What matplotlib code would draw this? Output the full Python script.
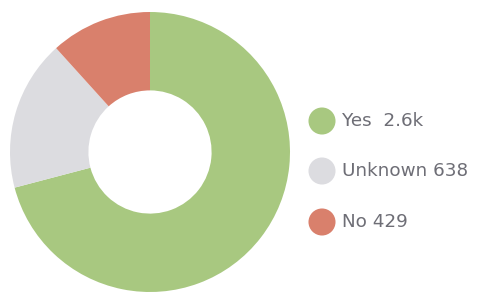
import matplotlib.pyplot as plt

labels = ['Yes', 'Unknown', 'No']
values = [2600, 638, 429]
value_labels = ['2.6k', '638', '429']
colors = ['#a8c880', '#dcdce0', '#d9806c']

plt.rcParams['font.family'] = ['DejaVu Sans']

fig = plt.figure(figsize=(4.8, 2.92), dpi=100)
ax = fig.add_axes([10 / 480, 0, 280 / 480, 280 / 292])
ax.pie(values, colors=colors, startangle=90, counterclock=False,
       wedgeprops=dict(width=0.56, linewidth=0))
ax.set_xlim(-1, 1)
ax.set_ylim(-1, 1)
ax.set_aspect('equal')

# legend drawn by hand in pixel coords
lax = fig.add_axes([0, 0, 1, 1])
lax.set_xlim(0, 480)
lax.set_ylim(292, 0)
lax.axis('off')
row_y = [121, 171, 222]
lax.scatter([322] * 3, row_y, s=27 ** 2 * 0.52, c=colors, linewidths=0)
for y, l, v in zip(row_y, labels, value_labels):
    gap = '  ' if l == 'Yes' else ' '
    lax.text(342, y, f'{l}{gap}{v}', fontsize=13.2, color='#6e6e76',
             va='center', ha='left')

fig.savefig('out.png', dpi=100)
